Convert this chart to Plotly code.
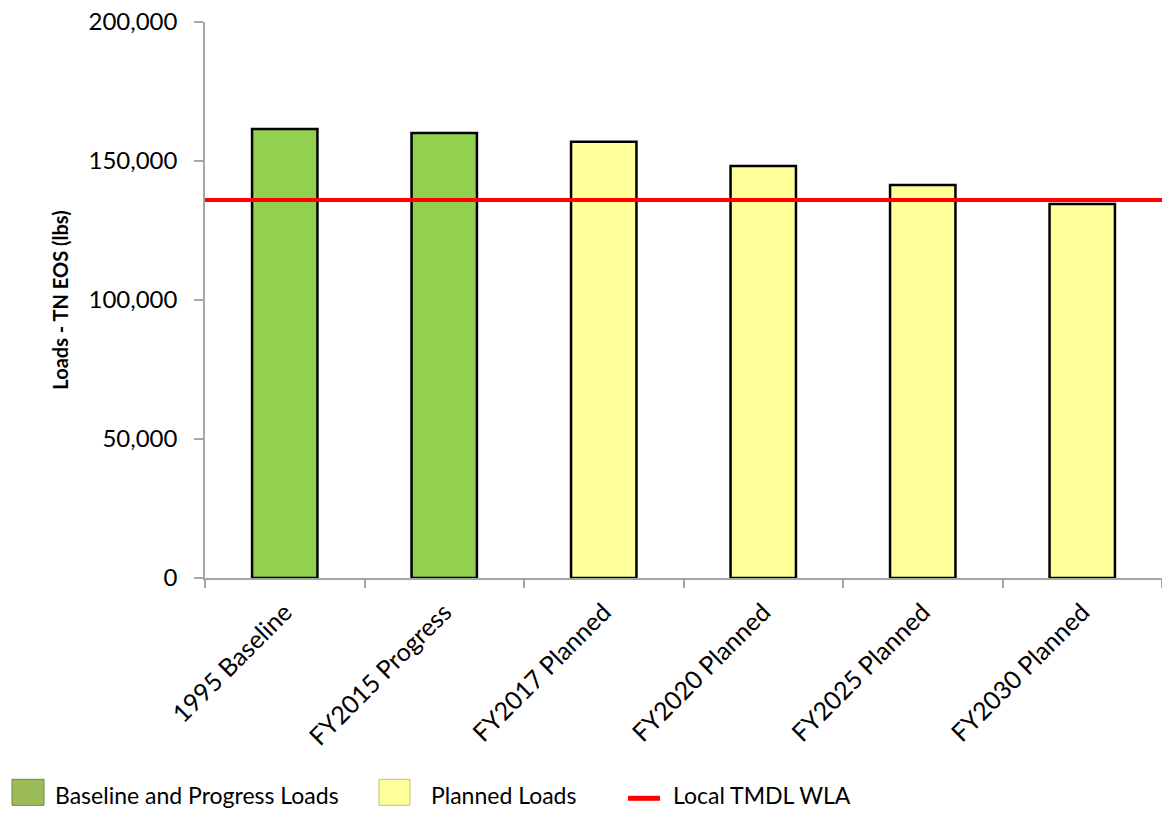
import plotly.graph_objects as go

# Loads by scenario (lbs of total nitrogen, edge-of-stream)
categories = ["1995 Baseline", "FY2015 Progress", "FY2017 Planned",
              "FY2020 Planned", "FY2025 Planned", "FY2030 Planned"]
progress_categories = ["1995 Baseline", "FY2015 Progress"]
progress_loads = [161500, 160100]
planned_categories = ["FY2017 Planned", "FY2020 Planned", "FY2025 Planned", "FY2030 Planned"]
planned_loads = [156900, 148200, 141400, 134500]
wla_load = 136000  # local TMDL waste load allocation

y_ticks = [0, 50000, 100000, 150000, 200000]

FONT = "Lato"
W, H = 1162, 813
M_L, M_R, M_T, M_B = 205, 0, 22, 234.5
PLOT_W = W - M_L - M_R
PLOT_H = H - M_T - M_B


def px_x(x):
    return (x - M_L) / PLOT_W


def px_y(y):
    return (H - M_B - y) / PLOT_H


fig = go.Figure()
fig.add_trace(go.Bar(
    x=progress_categories, y=progress_loads, name="Baseline and Progress Loads",
    marker=dict(color="#92D050", line=dict(color="#000000", width=2.5)),
    width=0.41, showlegend=False,
))
fig.add_trace(go.Bar(
    x=planned_categories, y=planned_loads, name="Planned Loads",
    marker=dict(color="#FFFF99", line=dict(color="#000000", width=2.5)),
    width=0.41, showlegend=False,
))

shapes = [
    # WLA reference line across the plot
    dict(type="line", xref="paper", x0=0, x1=1, yref="y", y0=wla_load, y1=wla_load,
         line=dict(color="#FF0000", width=4), layer="above"),
    # legend swatches
    dict(type="rect", xref="paper", yref="paper",
         x0=px_x(12), x1=px_x(44), y0=px_y(806), y1=px_y(780),
         fillcolor="#9BBB59", line=dict(color="#71893F", width=1)),
    dict(type="rect", xref="paper", yref="paper",
         x0=px_x(379), x1=px_x(410), y0=px_y(806), y1=px_y(780),
         fillcolor="#FFFF99", line=dict(color="#BFBF77", width=1)),
    dict(type="line", xref="paper", yref="paper",
         x0=px_x(628), x1=px_x(660), y0=px_y(799), y1=px_y(799),
         line=dict(color="#FF0000", width=5)),
]

legend_items = [("Baseline and Progress Loads", 53),
                ("Planned Loads", 429),
                ("Local TMDL WLA", 671)]
annotations = [
    dict(text=label, xref="paper", yref="paper", x=px_x(xp), y=px_y(796),
         xanchor="left", yanchor="middle", showarrow=False,
         font=dict(family=FONT, size=23, color="#000000"))
    for label, xp in legend_items
]

fig.update_layout(
    width=W, height=H,
    margin=dict(l=M_L, r=M_R, t=M_T, b=M_B, pad=0),
    paper_bgcolor="#FFFFFF", plot_bgcolor="#FFFFFF",
    barmode="overlay",
    showlegend=False,
    shapes=shapes,
    annotations=annotations,
    font=dict(family=FONT, color="#000000"),
)
fig.update_xaxes(
    type="category", categoryorder="array", categoryarray=categories,
    range=[-0.5, len(categories) - 0.5],
    showline=True, linecolor="#A6A6A6", linewidth=1.5,
    ticks="outside", tickson="boundaries", ticklen=8, tickcolor="#A6A6A6", tickwidth=1.5,
    ticklabelstandoff=8,
    tickangle=-45, tickfont=dict(family=FONT, size=25, color="#000000"),
    showgrid=False, zeroline=False,
)
fig.update_yaxes(
    range=[0, 200000], tickvals=y_ticks, tickformat=",",
    showline=True, linecolor="#A6A6A6", linewidth=1.5,
    ticks="outside", ticklen=9, tickcolor="#A6A6A6", tickwidth=1.5,
    ticklabelstandoff=12,
    tickfont=dict(family=FONT, size=24, color="#000000"),
    showgrid=False, zeroline=False,
    title=dict(text="<b>Loads - TN EOS (lbs)</b>", standoff=14,
               font=dict(family=FONT, size=20, color="#000000")),
)

fig.write_html("out.html")
